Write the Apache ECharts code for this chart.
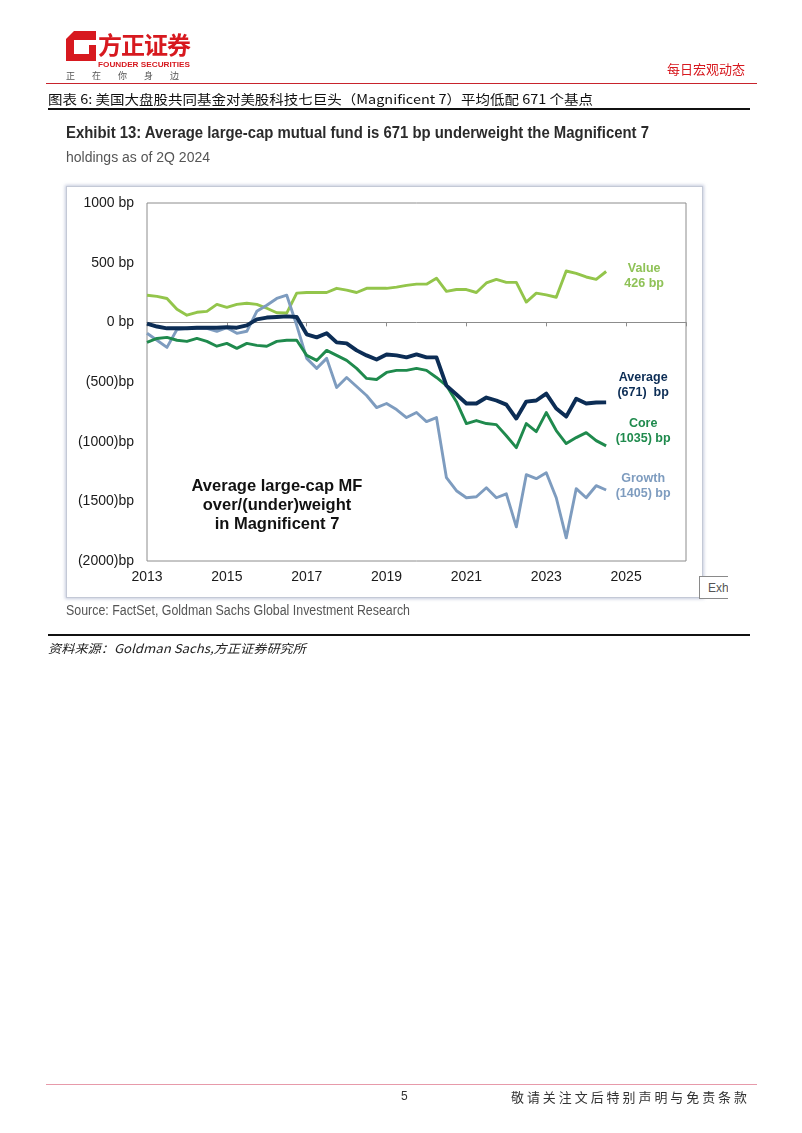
<!DOCTYPE html>
<html><head><meta charset="utf-8">
<script src="https://cdn.jsdelivr.net/npm/echarts@6/dist/echarts.min.js"></script>
<style>
html,body{margin:0;padding:0;background:#fff;}
body{width:802px;height:1133px;position:relative;overflow:hidden;font-family:"Liberation Sans",Arial,sans-serif;}
.abs{position:absolute;white-space:nowrap;z-index:3;}
.fit{transform-origin:0 50%;display:inline-block;}
#chart{position:absolute;left:0;top:0;width:802px;height:1133px;z-index:2;}
#box{position:absolute;left:66px;top:186px;width:635px;height:410px;border:1px solid #c4c9d6;box-shadow:0 0 3px 1px rgba(150,160,195,0.55);z-index:1;background:#fff;}
#exhi{position:absolute;left:699px;top:576px;width:29px;height:23px;border:1px solid #8a8a8a;border-right:none;overflow:hidden;z-index:3;background:#fff;font:12px "Liberation Sans Narrow","Liberation Sans",sans-serif;color:#555;line-height:23px;padding-left:8px;box-sizing:border-box;}
</style></head><body>

<!-- header -->
<svg class="abs" style="left:66px;top:31px" width="32" height="31" viewBox="0 0 32 31">
  <polygon points="8,0 30,0 30,30 0,30 0,8" fill="#d7191f"/>
  <rect x="8" y="9" width="15" height="14" fill="#fff"/>
  <rect x="23" y="9" width="7" height="5" fill="#fff"/>
</svg>
<div class="abs" style="left:98px;top:30px;font:bold 24px 'Noto Sans CJK SC';color:#d7191f;line-height:28px;letter-spacing:-1px">方正证券</div>
<div class="abs" style="left:98px;top:57px;height:10px;line-height:10px"><span class="fit" data-w="92" style="font:bold 8px 'Liberation Sans';color:#d7191f">FOUNDER SECURITIES</span></div>
<div class="abs" style="left:66px;top:70px;font:9px 'Noto Sans CJK SC';color:#555;letter-spacing:17px;line-height:12px">正在你身边</div>
<div class="abs" style="left:667px;top:60px;font:13px 'Noto Sans CJK SC';color:#d7191f;line-height:18px">每日宏观动态</div>
<div class="abs" style="left:46px;top:83px;width:711px;height:1px;background:#c8232c"></div>

<div class="abs" style="left:48px;top:89px;height:17px;line-height:17px"><span class="fit" data-w="545" style="font:13px 'Noto Sans CJK SC';color:#111">图表 6: 美国大盘股共同基金对美股科技七巨头（Magnificent 7）平均低配 671 个基点</span></div>
<div class="abs" style="left:48px;top:108px;width:702px;height:2px;background:#111"></div>

<!-- exhibit header -->
<div class="abs" style="left:66px;top:122px;height:22px;line-height:22px"><span class="fit" data-w="583" style="font:bold 17px 'Liberation Sans Narrow','Liberation Sans';color:#2b2b2b">Exhibit 13: Average large-cap mutual fund is 671 bp underweight the Magnificent 7</span></div>
<div class="abs" style="left:66px;top:148px;height:18px;line-height:18px"><span class="fit" data-w="144" style="font:14px 'Liberation Sans Narrow','Liberation Sans';color:#555">holdings as of 2Q 2024</span></div>

<div id="box"></div>
<div id="exhi">Exhibit</div>

<div class="abs" style="left:66px;top:601px;height:18px;line-height:18px"><span class="fit" data-w="344" style="font:14px 'Liberation Sans Narrow','Liberation Sans';color:#555">Source: FactSet, Goldman Sachs Global Investment Research</span></div>
<div class="abs" style="left:48px;top:634px;width:702px;height:1.5px;background:#111"></div>
<div class="abs" style="left:48px;top:639px;height:16px;line-height:16px"><span class="fit" data-w="258" style="font:italic 12px 'Noto Sans CJK SC';color:#222">资料来源：<i>Goldman Sachs</i>,方正证券研究所</span></div>

<!-- footer -->
<div class="abs" style="left:46px;top:1084px;width:711px;height:1px;background:#e79aaa"></div>
<div class="abs" style="left:401px;top:1088px;font:12px 'Liberation Sans';color:#333;line-height:16px">5</div>
<div class="abs" style="left:511px;top:1087px;height:18px;line-height:18px"><span class="fit" data-w="239" style="font:13px 'Noto Sans CJK SC';color:#333;letter-spacing:3px">敬请关注文后特别声明与免责条款</span></div>

<div id="chart"></div>

<script>
// ---- data (quarter-end holdings, bp) ----
const quarters = ['2012Q4',
  '2013Q1','2013Q2','2013Q3','2013Q4','2014Q1','2014Q2','2014Q3','2014Q4',
  '2015Q1','2015Q2','2015Q3','2015Q4','2016Q1','2016Q2','2016Q3','2016Q4',
  '2017Q1','2017Q2','2017Q3','2017Q4','2018Q1','2018Q2','2018Q3','2018Q4',
  '2019Q1','2019Q2','2019Q3','2019Q4','2020Q1','2020Q2','2020Q3','2020Q4',
  '2021Q1','2021Q2','2021Q3','2021Q4','2022Q1','2022Q2','2022Q3','2022Q4',
  '2023Q1','2023Q2','2023Q3','2023Q4','2024Q1','2024Q2'];
const valueBp   = [227,218,200,110,60,84,92,150,126,150,160,150,118,80,78,245,250,250,250,285,270,250,285,285,285,295,310,320,320,370,260,275,275,250,330,360,335,335,170,245,230,210,430,410,380,360,426];
const averageBp = [-10,-35,-50,-50,-50,-45,-45,-45,-40,-45,-25,25,40,45,50,45,-100,-126,-92,-168,-176,-235,-277,-311,-269,-277,-294,-269,-294,-294,-530,-605,-680,-680,-630,-655,-690,-806,-664,-655,-597,-722,-790,-640,-680,-672,-671];
const coreBp    = [-168,-135,-126,-150,-160,-135,-160,-200,-176,-218,-176,-193,-200,-160,-150,-150,-277,-319,-235,-277,-319,-386,-470,-479,-420,-403,-403,-386,-403,-462,-530,-665,-848,-823,-848,-857,-950,-1050,-848,-916,-756,-907,-1016,-966,-924,-991,-1035];
const growthBp  = [-92,-150,-210,-60,-50,-50,-50,-75,-45,-92,-75,92,143,200,227,-25,-302,-386,-302,-546,-462,-538,-613,-714,-680,-731,-798,-756,-832,-798,-1302,-1411,-1470,-1462,-1386,-1470,-1437,-1714,-1277,-1310,-1260,-1470,-1806,-1394,-1470,-1369,-1405];
const xTickLabels = ['2013','2015','2017','2019','2021','2023','2025'];
const yTickLabels = {'1000':'1000 bp','500':'500 bp','0':'0 bp','-500':'(500)bp','-1000':'(1000)bp','-1500':'(1500)bp','-2000':'(2000)bp'};
const seriesNames = ['Value','Growth','Core','Average'];
const endLabels = {Value:'Value\n426 bp', Average:'Average\n(671)  bp', Core:'Core\n(1035) bp', Growth:'Growth\n(1405) bp'};
const annotation = 'Average large-cap MF\nover/(under)weight\nin Magnificent 7';

// fit text widths
document.querySelectorAll('.fit').forEach(el=>{
  const w = el.getBoundingClientRect().width;
  const t = +el.dataset.w;
  if (w > 0) el.style.transform = 'scaleX(' + (t / w) + ')';
});

// quarter-end position in years since 2013
function qpos(q){ const y = +q.slice(0,4), n = +q.slice(5); return y + n/4 - 2013; }
function pairs(arr){ return arr.map((v,i)=>[qpos(quarters[i]), v]); }

const colors = {Value:'#93c54b', Average:'#0c2d55', Core:'#1f8a4d', Growth:'#7e9cbf'};
const widths = {Value:2.9, Average:3.9, Core:2.9, Growth:2.9};
const dataMap = {Value:valueBp, Average:averageBp, Core:coreBp, Growth:growthBp};
const labelOffsets = {Value:[38,5], Average:[37,-17], Core:[37,-15], Growth:[37,-4]};

const chart = echarts.init(document.getElementById('chart'), null, {renderer:'canvas'});
chart.setOption({
  backgroundColor:'transparent',
  animation:false,
  grid:{left:147, top:203, width:539, height:358, show:true, borderColor:'#8c8c8c', borderWidth:1, backgroundColor:'transparent'},
  xAxis:[{
    type:'value', min:0, max:13.5, interval:2, position:'bottom',
    axisLine:{show:false, onZero:false}, axisTick:{show:false}, splitLine:{show:false},
    axisLabel:{margin:9, fontFamily:'Liberation Sans', fontSize:14, color:'#1a1a1a',
      formatter:v=> (Number.isInteger(v) && v%2===0 && xTickLabels[v/2]) ? xTickLabels[v/2] : ''}
  },{
    type:'value', min:0, max:13.5, interval:2, position:'bottom',
    axisLine:{show:true, onZero:true, onZeroAxisIndex:0, lineStyle:{color:'#8c8c8c', width:1}},
    axisTick:{show:true, length:4, lineStyle:{color:'#8c8c8c'}},
    axisLabel:{show:false}, splitLine:{show:false}
  }],
  yAxis:{
    type:'value', min:-2000, max:1000, interval:500,
    axisLine:{show:false}, axisTick:{show:false}, splitLine:{show:false},
    axisLabel:{margin:13, fontFamily:'Liberation Sans', fontSize:14, color:'#1a1a1a',
      formatter:v=> yTickLabels[String(v)] || ''}
  },
  graphic:[{
    type:'text', z:10,
    style:{x:277, y:505, text:annotation, textAlign:'center', textVerticalAlign:'middle',
      font:'bold 16.5px "Liberation Sans"', lineHeight:19, fill:'#111'}
  }],
  series: seriesNames.map(n=>({
    name:n, type:'line', xAxisIndex:0, data:pairs(dataMap[n]), showSymbol:false, symbol:'none',
    lineStyle:{color:colors[n], width:widths[n], join:'round'},
    itemStyle:{color:colors[n]},
    z: n==='Average'?5:3,
    endLabel:{show:true, formatter:endLabels[n], position:'right', distance:0, align:'center',
      offset:labelOffsets[n], fontFamily:'Liberation Sans', fontSize:12.5, fontWeight:'bold',
      lineHeight:15, color:colors[n]==='#93c54b'?'#8fc257':colors[n]}
  }))
});
</script>
</body></html>
